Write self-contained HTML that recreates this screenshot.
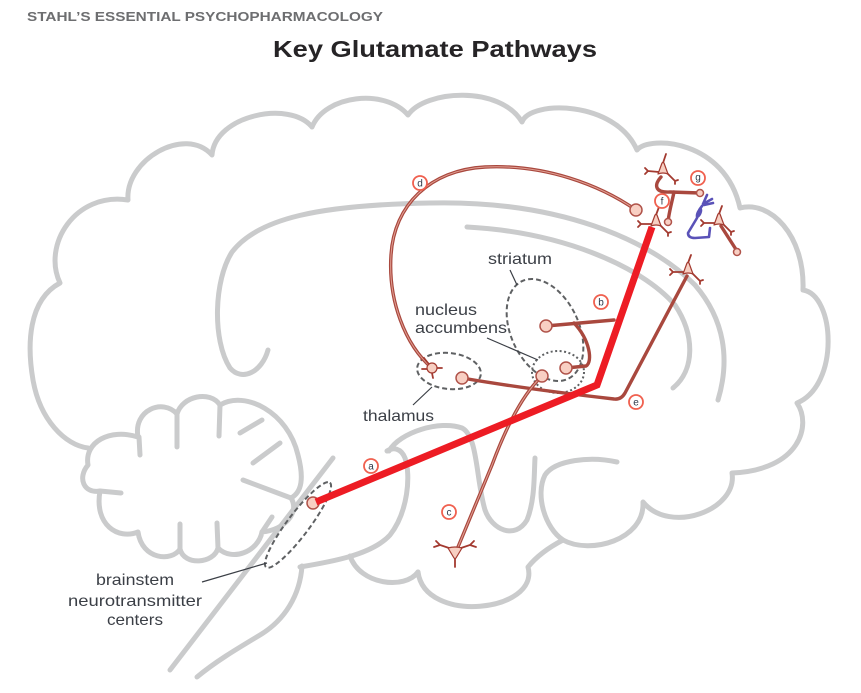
<!DOCTYPE html>
<html>
<head>
<meta charset="utf-8">
<style>
html,body{margin:0;padding:0;background:#fff;}
svg{display:block;}
text{font-family:"Liberation Sans",Arial,sans-serif;}
</style>
</head>
<body>
<svg width="861" height="693" viewBox="0 0 861 693" xmlns="http://www.w3.org/2000/svg">
<rect width="861" height="693" fill="#fff"/>

<!-- header -->
<text x="27" y="21" font-size="13" font-weight="bold" fill="#6d6e70" textLength="356" lengthAdjust="spacingAndGlyphs">STAHL’S ESSENTIAL PSYCHOPHARMACOLOGY</text>
<text x="273" y="57" font-size="23" font-weight="bold" fill="#262426" textLength="324" lengthAdjust="spacingAndGlyphs">Key Glutamate Pathways</text>

<!-- brain outline -->
<g fill="none" stroke="#cacbcc" stroke-width="5" stroke-linecap="round" stroke-linejoin="round">
  <path d="M88,448 C65,445 40,420 33,380 C27,345 28,300 60,283 C42,245 75,192 128,200 C125,160 185,125 212,155 C215,115 290,100 312,127 C325,95 385,88 408,115 C425,90 500,85 522,122 C530,100 615,100 637,150 C650,135 725,140 740,208 C770,200 805,235 803,290 C835,295 840,385 797,403 C812,425 800,470 732,473 C738,510 670,535 643,502 C645,540 590,555 563,540 Q540,552 528,567 C540,612 425,625 418,572"/>
  <path d="M563,540 C545,528 535,495 545,475 C555,460 590,456 617,462"/>
  <path d="M350,556 C360,585 405,590 418,572"/>
  <path d="M300,567 C330,562 372,555 390,535 C408,512 411,475 405,458 C401,448 393,447 387,451"/>
  <path d="M389,451 C400,432 440,420 462,428 C478,436 476,480 485,510 C492,530 515,540 527,520 C535,500 534,475 535,458"/>
  <path d="M268,350 C262,372 242,382 230,368 C212,340 214,280 232,252 C258,218 320,205 430,203 C560,200 650,240 695,285 C725,320 730,360 718,400"/>
  <path d="M467,227 C560,232 640,265 675,305 C695,335 695,370 673,388"/>
  <!-- cerebellum -->
  <path d="M88,465 C84,442 110,428 138,437 C133,410 163,398 177,414 C182,396 210,390 220,405 C245,390 288,412 298,455 C304,478 302,492 291,498 C300,512 285,530 262,532 C258,552 232,562 218,548 C214,564 184,566 180,549 C172,562 142,560 138,532 C118,540 94,525 100,491 C84,494 77,478 88,465 Z"/>
  <path d="M139,437 L140,455 M177,414 L177,447 M220,405 L219,436 M240,433 L262,420 M253,463 L280,443 M243,480 L291,498 M100,491 L121,493 M180,549 L180,524 M218,548 L217,523 M262,532 L272,517"/>
  <!-- brainstem -->
  <path d="M333,458 L170,670"/>
  <path d="M302,566 C300,595 285,620 260,635 C235,650 215,662 197,677"/>
</g>

<!-- dashed regions -->
<g fill="none" stroke="#5f6163" stroke-width="2">
  <ellipse cx="449" cy="371" rx="32" ry="18" transform="rotate(6 449 371)" stroke-dasharray="5 3"/>
  <ellipse cx="545" cy="330" rx="34" ry="54" transform="rotate(-25 545 330)" stroke-dasharray="5 3"/>
  <ellipse cx="558" cy="372" rx="26" ry="21" stroke-dasharray="2 2.5"/>
  <ellipse cx="298" cy="525" rx="53" ry="11" transform="rotate(-53 298 525)" stroke-dasharray="5 3"/>
</g>

<!-- label leader lines -->
<g stroke="#3b3f46" stroke-width="1.2" fill="none">
  <line x1="510" y1="270" x2="517" y2="285"/>
  <line x1="487" y1="338" x2="538" y2="360"/>
  <line x1="413" y1="405" x2="432" y2="387"/>
  <line x1="202" y1="582" x2="267" y2="563"/>
</g>

<!-- pathways -->
<g fill="none" stroke-linecap="round" stroke-linejoin="round">
  <g stroke="#a9483e" stroke-width="3.4">
    <path d="M432,368 C405,345 388,300 391,255 C394,205 430,170 485,167 C545,164 600,185 636,210"/>
    <path d="M462,378 C520,388 570,394 614,399 Q621,400 625,393 L687,276"/>
    <path d="M542,376 C522,395 505,430 492,465 L458,547"/>
    <path d="M546,326 L614,320"/>
    <path d="M574,323 C590,340 593,362 586,366 L566,368"/>
    <path d="M661,177 C653,186 656,193 670,192 L700,193"/>
    <path d="M674,192 C672,202 669,212 668,222"/>
    <path d="M721,226 L737,251"/>
  </g>
  <g stroke="#e2a195" stroke-width="1">
    <path d="M432,368 C405,345 388,300 391,255 C394,205 430,170 485,167 C545,164 600,185 636,210"/>
    <path d="M542,376 C522,395 505,430 492,465 L458,547"/>
  </g>
</g>

<!-- dots -->
<g fill="#f8cfc3" stroke="#b0534a" stroke-width="1.5">
  <circle cx="636" cy="210" r="6"/>
  <circle cx="546" cy="326" r="6"/>
  <circle cx="566" cy="368" r="6"/>
  <circle cx="542" cy="376" r="6"/>
  <circle cx="462" cy="378" r="6"/>
  <circle cx="313" cy="503" r="6"/>
  <circle cx="700" cy="193" r="3.5"/>
  <circle cx="668" cy="222" r="3.5"/>
  <circle cx="737" cy="252" r="3.5"/>
</g>

<!-- red main pathway -->
<polyline points="316,502 597,385 652,227" fill="none" stroke="#ed1c24" stroke-width="7" stroke-linejoin="miter"/>

<!-- pyramidal neurons -->
<g stroke="#a33a30" stroke-width="1.8" stroke-linecap="round" fill="none">
  <g transform="translate(663,170)">
    <path d="M0,-7 L3,-16 M-4,2 L-15,1 L-18,-2 M-15,1 L-18,4 M4,3 L12,11 L15,10 M12,11 L12,14"/>
  </g>
  <g transform="translate(656,222)">
    <path d="M0,-7 L3,-15 M-4,2 L-15,2 L-18,-1 M-15,2 L-18,5 M4,3 L12,11 L15,10 M12,11 L12,14"/>
  </g>
  <g transform="translate(719,221)">
    <path d="M0,-7 L3,-15 M-4,2 L-15,2 L-18,-1 M-15,2 L-18,5 M4,3 L12,11 L15,10 M12,11 L12,14"/>
  </g>
  <g transform="translate(688,270)">
    <path d="M0,-7 L3,-15 M-4,2 L-15,2 L-18,-1 M-15,2 L-18,5 M4,3 L12,11 L15,10 M12,11 L12,14"/>
  </g>
  <path d="M449,548 L440,545 L436,541 M440,545 L434,547 M461,548 L470,545 L474,541 M470,545 L476,547 M455,557 L455,567"/>
  <path d="M428,363 L424,358 M437,368 L442,368 M432,373 L433,378 M427,369 L422,369"/>
</g>
<g fill="#f7cfc2" stroke="#a33a30" stroke-width="1.2" stroke-linejoin="round">
  <path transform="translate(663,170)" d="M-5,4 Q0,2 5,4 L1,-7 Q0,-8 -1,-7 Z"/>
  <path transform="translate(656,222)" d="M-5,4 Q0,2 5,4 L1,-7 Q0,-8 -1,-7 Z"/>
  <path transform="translate(719,221)" d="M-5,4 Q0,2 5,4 L1,-7 Q0,-8 -1,-7 Z"/>
  <path transform="translate(688,270)" d="M-5,4 Q0,2 5,4 L1,-7 Q0,-8 -1,-7 Z"/>
  <path d="M448,548 Q455,546 462,548 L456,558 Q455,559 454,558 Z"/>
  <circle cx="432" cy="368" r="5"/>
</g>

<!-- blue interneuron -->
<g fill="none" stroke="#5a52b8" stroke-width="2.6" stroke-linecap="round" stroke-linejoin="round">
  <path d="M703,204 L707,195 M703,204 L712,199 M704,205 L713,203"/>
  <path d="M702,206 Q697,212 697,218 L688,233 Q688,238 695,238 L709,237 L710,228"/>
</g>
<ellipse cx="699" cy="213" rx="2.6" ry="5.5" transform="rotate(25 699 213)" fill="#5a52b8"/>

<!-- circled letters -->
<g fill="#fff" stroke="#f0604f" stroke-width="1.8">
  <circle cx="371" cy="466" r="7"/>
  <circle cx="601" cy="302" r="7"/>
  <circle cx="449" cy="512" r="7"/>
  <circle cx="420" cy="183" r="7"/>
  <circle cx="636" cy="402" r="7"/>
  <circle cx="662" cy="201" r="7"/>
  <circle cx="698" cy="178" r="7"/>
</g>
<g font-size="10" fill="#2f3a4a" text-anchor="middle">
  <text x="371" y="469.5">a</text>
  <text x="601" y="305.5">b</text>
  <text x="449" y="515.5">c</text>
  <text x="420" y="186.5">d</text>
  <text x="636" y="405.5">e</text>
  <text x="662" y="204.5">f</text>
  <text x="698" y="180.5">g</text>
</g>

<!-- region labels -->
<g font-size="16" fill="#3b3f46">
  <text x="488" y="264" textLength="64" lengthAdjust="spacingAndGlyphs">striatum</text>
  <text x="415" y="315" textLength="62" lengthAdjust="spacingAndGlyphs">nucleus</text>
  <text x="415" y="333" textLength="92" lengthAdjust="spacingAndGlyphs">accumbens</text>
  <text x="363" y="421" textLength="71" lengthAdjust="spacingAndGlyphs">thalamus</text>
  <text x="96" y="585" textLength="78" lengthAdjust="spacingAndGlyphs">brainstem</text>
  <text x="68" y="606" textLength="134" lengthAdjust="spacingAndGlyphs">neurotransmitter</text>
  <text x="107" y="625" textLength="56" lengthAdjust="spacingAndGlyphs">centers</text>
</g>
</svg>
</body>
</html>
